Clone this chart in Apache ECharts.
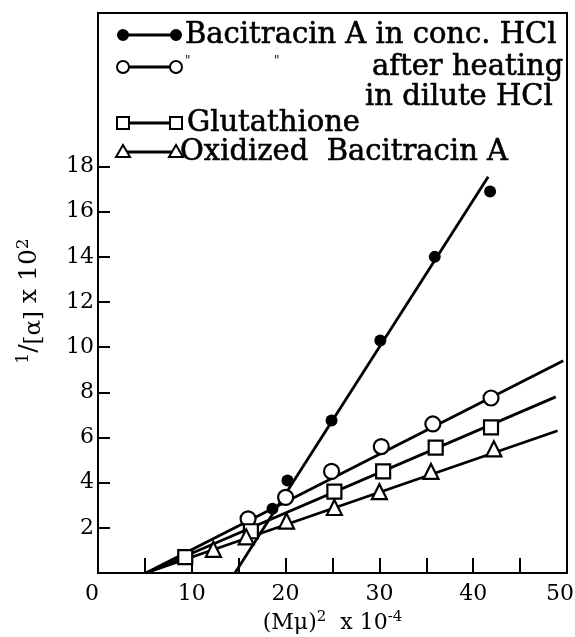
<!DOCTYPE html>
<html>
<head>
<meta charset="utf-8">
<script src="https://cdn.jsdelivr.net/npm/echarts@6/dist/echarts.min.js"></script>
<style>
  html, body { margin: 0; background: #fff; }
  #main { width: 575px; height: 637px; }
</style>
</head>
<body>
<div id="main"></div>
<script>
// values
const concHCl = [[18.6, 2.85], [20.2, 4.1], [24.9, 6.75], [30.1, 10.3], [35.9, 14.0], [41.8, 16.9]];
const heated = [[16.0, 2.4], [20.0, 3.35], [24.9, 4.5], [30.2, 5.6], [35.7, 6.6], [41.9, 7.75]];
const glutathione = [[9.3, 0.7], [16.3, 1.85], [25.2, 3.6], [30.4, 4.5], [36.0, 5.55], [41.9, 6.45]];
const oxidized = [[12.3, 1.05], [15.8, 1.6], [20.1, 2.3], [25.2, 2.9], [30.0, 3.6], [35.5, 4.5], [42.2, 5.5]];

// fitted straight lines (end points)
const concFit = [[14.6, 0], [41.6, 17.55]];
const heatedFit = [[5.1, 0], [49.6, 9.4]];
const glutFit = [[5.1, 0], [48.8, 7.8]];
const oxFit = [[5.1, 0], [49.0, 6.3]];

const yTicks = [2, 4, 6, 8, 10, 12, 14, 16, 18];
const xTicks = [5, 10, 15, 20, 25, 30, 35, 40, 45];
const xLabels = [0, 10, 20, 30, 40, 50];

const font = 'DejaVu Serif';
const chart = echarts.init(document.getElementById('main'));

function fit(data) {
  return {
    type: 'line', data: data, symbol: 'none', silent: true,
    lineStyle: { color: '#000', width: 2.8 }, z: 2
  };
}
function pts(data, symbol, size, fill) {
  return {
    type: 'scatter', data: data, symbol: symbol, symbolSize: size,
    itemStyle: { color: fill, opacity: 1, borderColor: '#000', borderWidth: fill === '#000' ? 0 : 2.2 }, z: 3
  };
}

// legend drawn by hand: marker - line - marker, then text
const legendRows = [
  { y: 35, sym: 'circle', fill: '#000' },
  { y: 67, sym: 'circle', fill: '#fff' },
  { y: 123, sym: 'rect', fill: '#fff' },
  { y: 152, sym: 'triangle', fill: '#fff' }
];
const graphic = [];
legendRows.forEach(function (r) {
  graphic.push({ type: 'line', shape: { x1: 123, y1: r.y, x2: 176, y2: r.y }, style: { stroke: '#000', lineWidth: 2.8 } });
  [123, 176].forEach(function (cx) {
    if (r.sym === 'circle') {
      graphic.push({ type: 'circle', shape: { cx: cx, cy: r.y, r: r.fill === '#000' ? 5 : 6 }, style: { fill: r.fill, stroke: '#000', lineWidth: 2 } });
    } else if (r.sym === 'rect') {
      graphic.push({ type: 'rect', shape: { x: cx - 6, y: r.y - 6, width: 12, height: 12 }, style: { fill: '#fff', stroke: '#000', lineWidth: 2 } });
    } else {
      graphic.push({ type: 'polygon', shape: { points: [[cx, r.y - 7], [cx - 7, r.y + 5], [cx + 7, r.y + 5]] }, style: { fill: '#fff', stroke: '#000', lineWidth: 2 } });
    }
  });
});
const legendText = [
  { x: 185, y: 35, t: 'Bacitracin A in conc. HCl' },
  { x: 372, y: 67, t: 'after heating' },
  { x: 365, y: 97, t: 'in dilute HCl' },
  { x: 187, y: 123, t: 'Glutathione' },
  { x: 180, y: 152, t: 'Oxidized  Bacitracin A' }
];
legendText.forEach(function (l) {
  graphic.push({ type: 'text', x: l.x, y: l.y, style: { text: l.t, font: '29px "' + font + '"', fill: '#000', stroke: '#000', lineWidth: 0.6, textVerticalAlign: 'middle' } });
});
graphic.push({ type: 'text', x: 185, y: 62, style: { text: '"', font: '12px "' + font + '"', fill: '#000', textVerticalAlign: 'middle' } });
graphic.push({ type: 'text', x: 274, y: 62, style: { text: '"', font: '12px "' + font + '"', fill: '#000', textVerticalAlign: 'middle' } });

const option = {
  animation: false,
  backgroundColor: '#fff',
  grid: {
    left: 98, right: 8, top: 13, bottom: 64, outerBoundsMode: 'none', containLabel: false,
    show: true, borderColor: '#000', borderWidth: 2
  },
  xAxis: {
    type: 'value', min: 0, max: 50,
    name: '(M\u03bc){sup|2}  x 10{sup|-4}',
    nameLocation: 'middle', nameGap: 37,
    nameTextStyle: {
      fontFamily: font, fontSize: 22, color: '#000',
      rich: { sup: { fontFamily: font, fontSize: 15, verticalAlign: 'bottom', padding: [0, 0, 11, 0] } }
    },
    axisLine: { lineStyle: { color: '#000', width: 2 } },
    axisTick: { inside: true, length: 15, customValues: xTicks, lineStyle: { color: '#000', width: 2 } },
    axisLabel: {
      customValues: xLabels, fontFamily: font, fontSize: 22, color: '#000', margin: 10,
      formatter: function (v) { return v === 50 ? '{r|50}' : v === 0 ? '{l|0}' : String(v); },
      rich: {
        r: { fontFamily: font, fontSize: 22, padding: [0, 14, 0, 0] },
        l: { fontFamily: font, fontSize: 22, padding: [0, 12, 0, 0] }
      }
    },
    splitLine: { show: false }
  },
  yAxis: {
    type: 'value', min: 0, max: 24.8,
    name: '{sup|1}/{sub|[\u03b1]} x 10{sup|2}',
    nameLocation: 'middle', nameRotate: 90, nameGap: 52,
    nameTextStyle: {
      fontFamily: font, fontSize: 25, color: '#000', padding: [0, 16, 0, 0],
      rich: {
        sup: { fontFamily: font, fontSize: 17, verticalAlign: 'bottom', padding: [0, 0, 14, 0] },
        sub: { fontFamily: font, fontSize: 23, verticalAlign: 'top', padding: [10, 0, 0, 0] }
      }
    },
    axisLine: { lineStyle: { color: '#000', width: 2 } },
    axisTick: { inside: true, length: 12, customValues: yTicks, lineStyle: { color: '#000', width: 2 } },
    axisLabel: { customValues: yTicks, fontFamily: font, fontSize: 22, color: '#000', margin: 4 },
    splitLine: { show: false }
  },
  graphic: graphic,
  series: [
    fit(concFit), fit(heatedFit), fit(glutFit), fit(oxFit),
    pts(concHCl, 'circle', 12, '#000'),
    pts(heated, 'circle', 15, '#fff'),
    pts(glutathione, 'rect', 14, '#fff'),
    pts(oxidized, 'triangle', 15, '#fff')
  ]
};
chart.setOption(option);
</script>
</body>
</html>
